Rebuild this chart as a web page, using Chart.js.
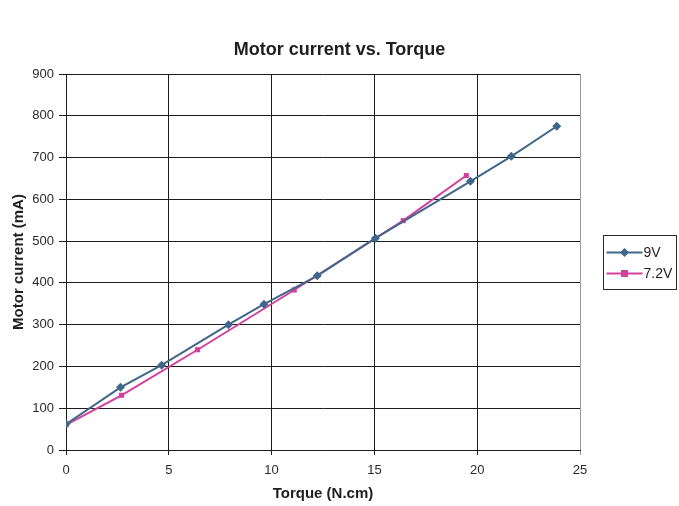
<!DOCTYPE html>
<html>
<head>
<meta charset="utf-8">
<script src="https://cdn.jsdelivr.net/npm/chart.js@4.4.1/dist/chart.umd.min.js"></script>
<style>
  html, body { margin: 0; padding: 0; background: #ffffff; }
  #wrap { width: 679px; height: 506px; position: relative; }
</style>
</head>
<body>
<div id="wrap"><canvas id="c" width="679" height="506"></canvas></div>
<script>
// Measured motor current (mA) against load torque (N.cm) at two supply voltages
const torque9V   = [0, 2.65, 4.65, 7.9, 9.63, 12.22, 15.05, 19.67, 21.66, 23.87];
const current9V  = [62, 150, 203, 300, 349, 417, 507, 643, 703, 775];
const torque72V  = [0, 2.7, 6.4, 11.1, 16.4, 19.47];
const current72V = [60, 131, 240, 383, 549, 657];

const seriesLabels = ['9V', '7.2V'];
const xTicks = [0, 5, 10, 15, 20, 25];
const yTicks = [0, 100, 200, 300, 400, 500, 600, 700, 800, 900];

const colour9V  = '#40678a';
const colour72V = '#d23f9d';
const FONT = "'Liberation Sans', Arial, sans-serif";

const toPoints = (xs, ys) => xs.map((x, i) => ({ x: x, y: ys[i] }));

// Boxed legend on the right: line sample with the series marker, then the label
const boxedLegend = {
  id: 'boxedLegend',
  afterDraw(chart) {
    const ctx = chart.ctx;
    const box = { x: 603.5, y: 235.5, w: 73, h: 54 };
    ctx.save();
    ctx.strokeStyle = '#2a2a2a';
    ctx.lineWidth = 1;
    ctx.strokeRect(box.x, box.y, box.w, box.h);
    chart.data.datasets.forEach((ds, i) => {
      const cy = box.y + 17 + i * 21;
      ctx.strokeStyle = ds.borderColor;
      ctx.lineWidth = 2;
      ctx.beginPath();
      ctx.moveTo(box.x + 3, cy);
      ctx.lineTo(box.x + 39, cy);
      ctx.stroke();
      const mx = box.x + 21;
      ctx.fillStyle = ds.backgroundColor;
      ctx.beginPath();
      if (ds.pointStyle === 'rectRot') {
        ctx.moveTo(mx, cy - 4.5);
        ctx.lineTo(mx + 4.5, cy);
        ctx.lineTo(mx, cy + 4.5);
        ctx.lineTo(mx - 4.5, cy);
        ctx.closePath();
      } else {
        ctx.rect(mx - 3.5, cy - 3.5, 7, 7);
      }
      ctx.fill();
      ctx.fillStyle = '#1e1e1e';
      ctx.font = '14px ' + FONT;
      ctx.textBaseline = 'middle';
      ctx.textAlign = 'left';
      ctx.fillText(ds.label, box.x + 40, cy + 1);
    });
    ctx.restore();
  }
};

new Chart(document.getElementById('c'), {
  type: 'scatter',
  data: {
    datasets: [
      {
        label: seriesLabels[0],
        data: toPoints(torque9V, current9V),
        showLine: true,
        borderColor: colour9V,
        backgroundColor: colour9V,
        borderWidth: 2,
        pointStyle: 'rectRot',
        pointRadius: 4.5,
        pointBorderWidth: 0,
        tension: 0
      },
      {
        label: seriesLabels[1],
        data: toPoints(torque72V, current72V),
        showLine: true,
        borderColor: colour72V,
        backgroundColor: colour72V,
        borderWidth: 2,
        pointStyle: 'rect',
        pointRadius: 3.6,
        pointBorderWidth: 0,
        tension: 0
      }
    ]
  },
  options: {
    responsive: false,
    animation: false,
    events: [],
    layout: { padding: 0 },
    plugins: {
      legend: { display: false },
      tooltip: { enabled: false },
      title: {
        display: true,
        text: 'Motor current vs. Torque',
        color: '#1e1e1e',
        font: { family: FONT, size: 18, weight: 'bold' },
        padding: { top: 39.5, bottom: 12.9 }
      }
    },
    scales: {
      x: {
        type: 'linear',
        min: 0,
        max: 25,
        afterBuildTicks: s => { s.ticks = xTicks.map(v => ({ value: v })); },
        afterFit: s => { s.height = 56; },
        grid: {
          color: c => (c.tick && c.tick.value === 25 ? '#9a9a9a' : '#1c1c1c'),
          lineWidth: 1,
          tickLength: 5,
          drawTicks: true
        },
        border: { color: '#1c1c1c', width: 1 },
        ticks: {
          color: '#2a2a2a',
          font: { family: FONT, size: 13 },
          padding: 8,
          maxRotation: 0
        },
        title: {
          display: true,
          text: 'Torque (N.cm)',
          color: '#1e1e1e',
          font: { family: FONT, size: 15, weight: 'bold' },
          padding: { top: 0, bottom: 3 }
        }
      },
      y: {
        type: 'linear',
        min: 0,
        max: 900,
        afterBuildTicks: s => { s.ticks = yTicks.map(v => ({ value: v })); },
        afterFit: s => { s.width = 66; },
        grid: {
          color: '#1c1c1c',
          lineWidth: 1,
          tickLength: 7,
          drawTicks: true
        },
        border: { color: '#1c1c1c', width: 1 },
        ticks: {
          color: '#2a2a2a',
          font: { family: FONT, size: 13 },
          padding: 5
        },
        title: {
          display: true,
          text: 'Motor current (mA)',
          color: '#1e1e1e',
          font: { family: FONT, size: 15, weight: 'bold' },
          padding: { top: 10, bottom: 0 }
        }
      },
      // empty right-hand axis that only reserves the space the legend sits in
      legendSpace: {
        type: 'linear',
        position: 'right',
        display: true,
        min: 0,
        max: 900,
        afterFit: s => { s.width = 99; },
        grid: { display: false, drawTicks: false },
        border: { display: false },
        ticks: { display: false }
      }
    }
  },
  plugins: [boxedLegend]
});
</script>
</body>
</html>
